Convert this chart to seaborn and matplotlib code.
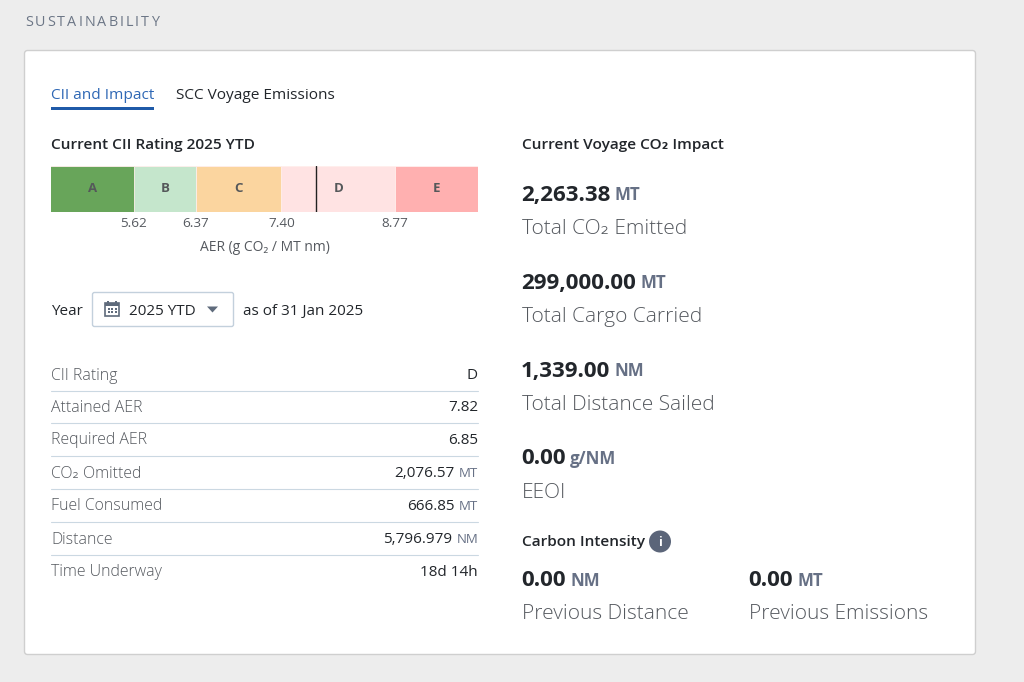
import matplotlib
matplotlib.use('Agg')
import matplotlib.pyplot as plt
from matplotlib.patches import FancyBboxPatch, Rectangle, Polygon, Circle
import seaborn as sns

# CII bands
band_names = ['A', 'B', 'C', 'D', 'E']
band_colors = ['#68a55a', '#c5e6cc', '#fbd59f', '#ffe3e3', '#ffb0b0']
band_limits = [5.62, 6.37, 7.40, 8.77]
axis_start = 4.62
axis_end = 9.77
attained_aer = 7.82

# Table on the left
row_names = ['CII Rating', 'Attained AER', 'Required AER', 'CO₂ Omitted',
             'Fuel Consumed', 'Distance', 'Time Underway']
row_values = ['D', '7.82', '6.85', '2,076.57', '666.85', '5,796.979', '18d 14h']
row_units = ['', '', '', 'MT', 'MT', 'NM', '']

# Stats on the right
stat_values = ['2,263.38', '299,000.00', '1,339.00', '0.00']
stat_units = ['MT', 'MT', 'NM', 'g/NM']
stat_names = ['Total CO₂ Emitted', 'Total Cargo Carried', 'Total Distance Sailed', 'EEOI']
prev_values = ['0.00', '0.00']
prev_units = ['NM', 'MT']
prev_names = ['Previous Distance', 'Previous Emissions']

sns.set_theme(style='white')
plt.rcParams['font.family'] = ['Open Sans', 'DejaVu Sans']

W, H = 1024, 682
fig = plt.figure(figsize=(W / 100, H / 100), dpi=100, facecolor='#ededed')

# Full size axes in pixels, for the page furniture
page = fig.add_axes([0, 0, 1, 1])
page.set_xlim(0, W)
page.set_ylim(H, 0)
page.axis('off')

DARK = '#22262b'
GREY = '#55595f'
UNIT = '#667085'
LINE = '#cbd8e2'


def put(x, y, s, size=11, color=DARK, weight='normal', ha='left'):
    return page.text(x, y - 0.5, s, fontsize=size, color=color, fontweight=weight,
                     ha=ha, va='center_baseline')


def text_width(t):
    return t.get_window_extent(fig.canvas.get_renderer()).width


def value_unit(x, y, value, unit, size, unit_size, weight='bold'):
    t = put(x - 0.8, y, value, size=size, weight=weight)
    put(x + text_width(t) + size * 0.22, y + 0.5, unit, size=unit_size, color=UNIT, weight=weight)


page.add_patch(FancyBboxPatch((24.5, 50.5), 951, 604, boxstyle='round,pad=0,rounding_size=3',
                              fc='white', ec='#cfcfcf', lw=1))

# Spaced out section heading
x = 25
for ch in 'SUSTAINABILITY':
    t = put(x, 21, ch, size=10.4, color='#6c7686')
    x += text_width(t) + 2.0

# Tabs
put(51, 94, 'CII and Impact', size=11.1, color='#2f68b5')
put(176, 94, 'SCC Voyage Emissions', size=11.1, color=DARK)
page.add_patch(Rectangle((51, 107), 103, 2.5, fc='#1f5aa8', ec='none'))

# Section titles
put(51, 144, 'Current CII Rating 2025 YTD', size=11.1, weight='semibold')
put(522, 144, 'Current Voyage CO₂ Impact', size=11.1, weight='semibold')

# Rating bar
bar = fig.add_axes([51 / W, 1 - 212.5 / H, 427 / W, 47 / H])
upper_edges = band_limits + [axis_end]
for upper, color in zip(upper_edges[::-1], band_colors[::-1]):
    sns.barplot(x=[upper], y=['CII'], color=color, saturation=1, width=1,
                edgecolor='#fff0ee', linewidth=0.6, ax=bar)
bar.set_xlim(axis_start, axis_end)
bar.set_yticks([])
bar.set_ylabel('')
sns.despine(ax=bar, left=True, bottom=True)
bar.set_xticks(band_limits)
bar.set_xticklabels([f'{v:.2f}' for v in band_limits], fontsize=9.7, color=GREY)
bar.tick_params(axis='x', length=0, pad=3.5)
bar.set_xlabel('AER (g CO₂ / MT nm)', fontsize=10, color=GREY, labelpad=7)
lefts = [axis_start] + band_limits
for name, lo, hi in zip(band_names, lefts, upper_edges):
    bar.text((lo + hi) / 2, 0, name, ha='center', va='center', fontsize=9.5,
             fontweight='bold', color='#55585a')
bar.axvline(attained_aer, color='#222222', lw=1)

# Year selector
put(51, 310, 'Year', size=11)
page.add_patch(FancyBboxPatch((92.5, 292.5), 141, 34, boxstyle='round,pad=0,rounding_size=2',
                              fc='white', ec='#c3d0dc', lw=1))
page.add_patch(Rectangle((105, 303), 14, 12.5, fc='none', ec='#5f6b7c', lw=1.2))
page.add_patch(Rectangle((105, 303), 14, 3, fc='#5f6b7c', ec='none'))
for ix in (107, 115):
    page.add_patch(Rectangle((ix, 300.5), 2, 3.5, fc='#5f6b7c', ec='none'))
for ix in (107.5, 111, 114.5):
    for iy in (307.5, 311):
        page.add_patch(Rectangle((ix, iy), 2, 2, fc='#5f6b7c', ec='none'))
put(129, 310, '2025 YTD', size=11)
page.add_patch(Polygon([(207, 306.5), (218, 306.5), (212.5, 312.5)], fc='#5f6b7c', ec='none'))
put(243, 310, 'as of 31 Jan 2025', size=11)

# Table
row_y = [374, 406, 439, 472, 505, 538, 571]
rule_y = [390.5, 422.5, 455.5, 488.5, 521.5, 554.5]
for y, name, value, unit in zip(row_y, row_names, row_values, row_units):
    put(51, y, name, size=11.4, color=GREY, weight='light')
    if unit:
        u = put(478, y + 0.5, unit, size=9.5, color=UNIT, ha='right')
        put(478 - text_width(u) - 4.5, y, value, size=11, ha='right')
    else:
        put(478, y, value, size=11, ha='right')
for y in rule_y:
    page.plot([51, 478], [y, y], color=LINE, lw=0.8)

# Right column stats
stat_y = [193, 281, 369, 457]
name_y = [227, 315, 403, 491]
for y, ny, value, unit, name in zip(stat_y, name_y, stat_values, stat_units, stat_names):
    value_unit(522, y, value, unit, 16.1, 12.2)
    put(522, ny, name, size=15, color=GREY, weight='light')

# Carbon intensity
put(522, 541, 'Carbon Intensity', size=11.1, weight='semibold')
page.add_patch(Circle((660, 541.5), 11, fc='#5b6579', ec='none'))
put(660, 541.5, 'i', size=9, color='white', weight='bold', ha='center')
for x, value, unit, name in zip([522, 749], prev_values, prev_units, prev_names):
    value_unit(x, 579, value, unit, 16.1, 12.2)
    put(x, 612, name, size=15, color=GREY, weight='light')

page.set_xlim(0, W)
page.set_ylim(H, 0)
fig.savefig('out.png', dpi=100, facecolor=fig.get_facecolor())
